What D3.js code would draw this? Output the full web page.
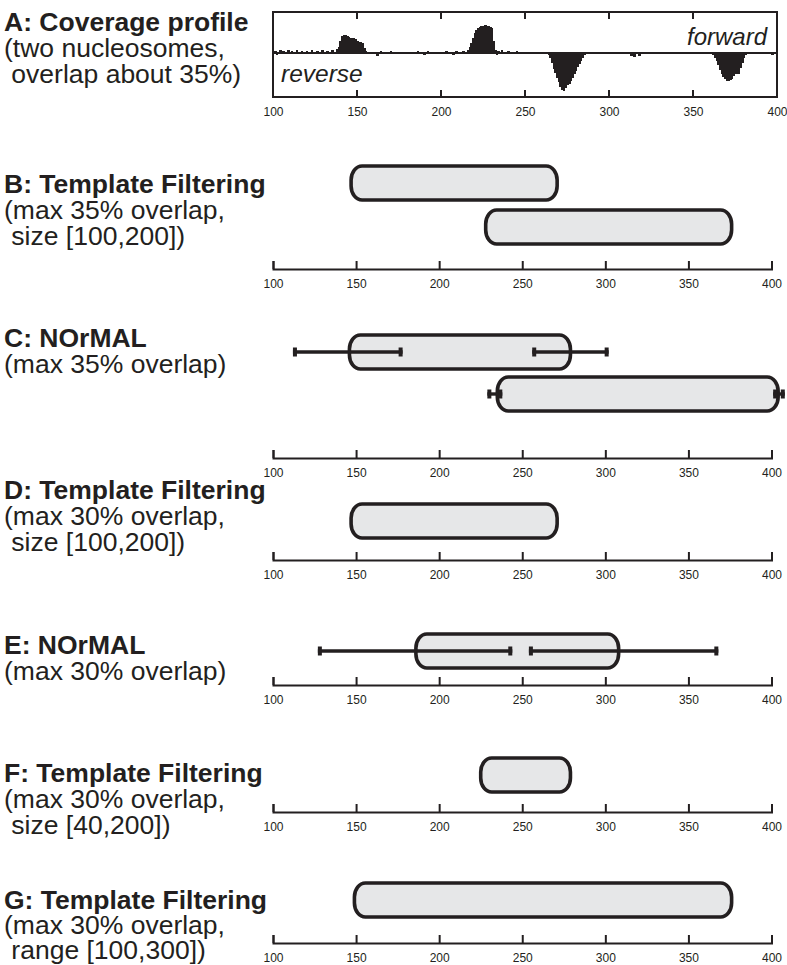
<!DOCTYPE html>
<html>
<head>
<meta charset="utf-8">
<script src="https://cdn.jsdelivr.net/npm/d3@7"></script>
<style>
  html, body { margin: 0; padding: 0; background: #fff; }
  svg { display: block; font-family: "Liberation Sans", Arial, Helvetica, sans-serif; }
  .title { font-weight: bold; }
  text { white-space: pre; }
</style>
</head>
<body>
<svg id="chart" width="787" height="965"></svg>
<script>
// --- Data ---
const tickValues = [100, 150, 200, 250, 300, 350, 400];

// Panel A: read coverage (forward above the line, reverse below)
const fwdPos = [101, 104, 106, 109, 111, 114, 117, 120, 123, 126, 129, 132, 135, 138,
  139, 140, 141, 142, 143, 144, 145, 146, 147, 148, 149, 150, 151, 152, 153, 154, 155,
  158, 164, 170, 173, 186, 192, 197, 203, 209, 213,
  216, 217, 218, 219, 220, 221, 222, 223, 224, 225, 226, 227, 228, 229, 230, 231, 232,
  234, 236, 240, 245, 299, 318];
const fwdCount = [2, 3, 2, 3, 2, 3, 2, 2, 3, 2, 3, 2, 3, 4,
  6, 12, 17, 18, 18, 17, 16, 15, 15, 15, 14, 12, 11, 11, 10, 5, 2,
  1, 2, 2, 1, 2, 2, 1, 2, 2, 2,
  3, 6, 10, 15, 20, 24, 26, 27, 28, 28, 29, 28, 28, 27, 26, 12, 3,
  2, 3, 2, 2, 1, 1];
const revPos = [102, 107, 124, 136, 162, 172, 190, 201, 207, 215, 233,
  264, 265, 266, 267, 268, 269, 270, 271, 272, 273, 274, 275, 276, 277, 278, 279, 280,
  281, 282, 283, 284, 285, 313, 315, 318, 331, 352,
  362, 363, 364, 365, 366, 367, 368, 369, 370, 371, 372, 373, 374, 375, 376, 377, 378,
  379, 380, 381, 387, 397];
const revCount = [2, 1, 1, 1, 3, 1, 2, 1, 2, 1, 2,
  2, 5, 10, 16, 20, 26, 30, 35, 38, 39, 36, 33, 32, 29, 26, 22, 18,
  14, 11, 8, 5, 2, 3, 4, 3, 1, 1,
  2, 5, 8, 12, 17, 22, 25, 27, 29, 29, 28, 27, 24, 22, 22, 21, 15,
  10, 5, 2, 1, 2];

// Panels B-G: nucleosome calls [start, end]
const nucB = [[147, 271], [228, 376]];
const nucC = [[146, 279], [235, 404]];
const nucD = [[147, 271]];
const nucE = [[186, 308]];
const nucF = [[225, 279]];
const nucG = [[149, 376]];

// NOrMAL intervals for start and end positions
const errC = [[[112, 178], [256, 302]], [[229, 238], [401, 408]]];
const errE = [[[127, 244], [254, 368]]];

const panelTitles = ["B: Template Filtering", "C: NOrMAL", "D: Template Filtering",
  "E: NOrMAL", "F: Template Filtering", "G: Template Filtering"];
const panelNotes = [
  ["(max 35% overlap,", " size [100,200])"],
  ["(max 35% overlap)"],
  ["(max 30% overlap,", " size [100,200])"],
  ["(max 30% overlap)"],
  ["(max 30% overlap,", " size [40,200])"],
  ["(max 30% overlap,", " range [100,300])"]
];
const panelNucs = [nucB, nucC, nucD, nucE, nucF, nucG];
const panelErrs = [null, errC, null, errE, null, null];

// --- Layout ---
const ink = "#231f20";
const fillGrey = "#e6e7e8";
const titleSize = 26.5;

const panelLayout = [
  { titleY: 193, gap: 26, axisY: 269, rows: [183, 227] },
  { titleY: 347, gap: 26, axisY: 458, rows: [352, 394] },
  { titleY: 499, gap: 26, axisY: 560, rows: [521] },
  { titleY: 654, gap: 26, axisY: 685, rows: [651] },
  { titleY: 782, gap: 26, axisY: 812, rows: [775] },
  { titleY: 909, gap: 25, axisY: 943, rows: [900] }
];

const svg = d3.select("#chart");

const x = d3.scaleLinear().domain([100, 400]).range([273, 771.5]);
const xA = d3.scaleLinear().domain([100, 400]).range([273, 777]);

function drawTitle(y, gap, title, notes) {
  const t = svg.append("g").attr("fill", ink);
  t.append("text")
    .attr("class", "title")
    .attr("x", 4)
    .attr("y", y)
    .attr("font-size", titleSize)
    .text(title);
  notes.forEach((s, i) => {
    t.append("text")
      .attr("x", 4)
      .attr("y", y + gap * (i + 1))
      .attr("font-size", titleSize)
      .text(s);
  });
}

// --- Panel A: coverage profile ---
drawTitle(31, 26, "A: Coverage profile", ["(two nucleosomes,", " overlap about 35%)"]);

const frameTop = 12, frameBottom = 97, midY = 53;
const yCov = d3.scaleLinear().domain([0, 42]).range([midY, frameTop]);
const barW = xA(101) - xA(100);

const gA = svg.append("g").attr("shape-rendering", "crispEdges");

gA.selectAll("rect.fwd")
  .data(fwdPos.map((p, i) => ({ p, c: fwdCount[i] })))
  .enter()
  .append("rect")
  .attr("class", "fwd")
  .attr("x", (d) => xA(d.p) - barW / 2)
  .attr("width", barW + 1)
  .attr("y", (d) => yCov(d.c))
  .attr("height", (d) => midY - yCov(d.c))
  .attr("fill", ink);

gA.selectAll("rect.rev")
  .data(revPos.map((p, i) => ({ p, c: revCount[i] })))
  .enter()
  .append("rect")
  .attr("class", "rev")
  .attr("x", (d) => xA(d.p) - barW / 2)
  .attr("width", barW + 1)
  .attr("y", midY)
  .attr("height", (d) => midY - yCov(d.c))
  .attr("fill", ink);

gA.append("line")
  .attr("x1", xA(100)).attr("x2", xA(400))
  .attr("y1", midY).attr("y2", midY)
  .attr("stroke", ink).attr("stroke-width", 2.2);

gA.append("rect")
  .attr("x", xA(100)).attr("y", frameTop)
  .attr("width", xA(400) - xA(100)).attr("height", frameBottom - frameTop)
  .attr("fill", "none").attr("stroke", ink).attr("stroke-width", 2);

const innerTicks = tickValues.slice(1, -1);
gA.selectAll("line.ttop")
  .data(innerTicks)
  .enter()
  .append("line")
  .attr("x1", (d) => xA(d)).attr("x2", (d) => xA(d))
  .attr("y1", frameTop).attr("y2", frameTop + 7)
  .attr("stroke", ink).attr("stroke-width", 1.6);
gA.selectAll("line.tbot")
  .data(innerTicks)
  .enter()
  .append("line")
  .attr("x1", (d) => xA(d)).attr("x2", (d) => xA(d))
  .attr("y1", frameBottom).attr("y2", frameBottom - 7)
  .attr("stroke", ink).attr("stroke-width", 1.6);

gA.append("text")
  .attr("x", 767).attr("y", 45)
  .attr("text-anchor", "end")
  .attr("font-size", 24).attr("font-style", "italic")
  .attr("fill", ink)
  .text("forward");
gA.append("text")
  .attr("x", 281).attr("y", 82)
  .attr("font-size", 24.5).attr("font-style", "italic")
  .attr("fill", ink)
  .text("reverse");

const axisA = svg.append("g")
  .attr("transform", `translate(0,${frameBottom})`)
  .call(d3.axisBottom(xA).tickValues(tickValues).tickSize(0).tickPadding(10));
axisA.select(".domain").remove();
axisA.selectAll("text").attr("font-size", 12).attr("fill", ink)
  .style("font-family", "Liberation Sans, Arial, sans-serif");

// --- Panels B-G ---
panelLayout.forEach((L, pi) => {
  drawTitle(L.titleY, L.gap, panelTitles[pi], panelNotes[pi]);

  const g = svg.append("g");
  const barH = 34;

  g.selectAll("rect.nuc")
    .data(panelNucs[pi])
    .enter()
    .append("rect")
    .attr("class", "nuc")
    .attr("x", (d) => x(d[0]))
    .attr("width", (d) => x(d[1]) - x(d[0]))
    .attr("y", (d, i) => L.rows[i] - barH / 2)
    .attr("height", barH)
    .attr("rx", 11).attr("ry", 14)
    .attr("fill", fillGrey)
    .attr("stroke", ink)
    .attr("stroke-width", 3.6);

  const errs = panelErrs[pi];
  if (errs) {
    const segs = [];
    errs.forEach((pair, i) => {
      pair.forEach((iv) => segs.push({ lo: iv[0], hi: iv[1], y: L.rows[i] }));
    });
    g.selectAll("line.err")
      .data(segs)
      .enter()
      .append("line")
      .attr("x1", (d) => x(d.lo)).attr("x2", (d) => x(d.hi))
      .attr("y1", (d) => d.y).attr("y2", (d) => d.y)
      .attr("stroke", ink).attr("stroke-width", 3.4);
    const caps = [];
    segs.forEach((s) => {
      caps.push({ v: s.lo, y: s.y, side: 0 });
      caps.push({ v: s.hi, y: s.y, side: 1 });
    });
    g.selectAll("rect.cap")
      .data(caps)
      .enter()
      .append("rect")
      .attr("x", (d) => (d.side === 0 ? x(d.v) : x(d.v) - 4))
      .attr("width", 4)
      .attr("y", (d) => d.y - 4.5)
      .attr("height", 9)
      .attr("fill", ink);
  }

  const ax = svg.append("g")
    .attr("transform", `translate(0,${L.axisY})`)
    .call(d3.axisBottom(x).tickValues(tickValues).tickSize(-8).tickSizeOuter(-8).tickPadding(10));
  ax.select(".domain").attr("stroke", ink).attr("stroke-width", 2);
  ax.selectAll(".tick line").attr("stroke", ink).attr("stroke-width", 2);
  ax.selectAll("text").attr("font-size", 12).attr("fill", ink)
    .style("font-family", "Liberation Sans, Arial, sans-serif");
});
</script>
</body>
</html>
